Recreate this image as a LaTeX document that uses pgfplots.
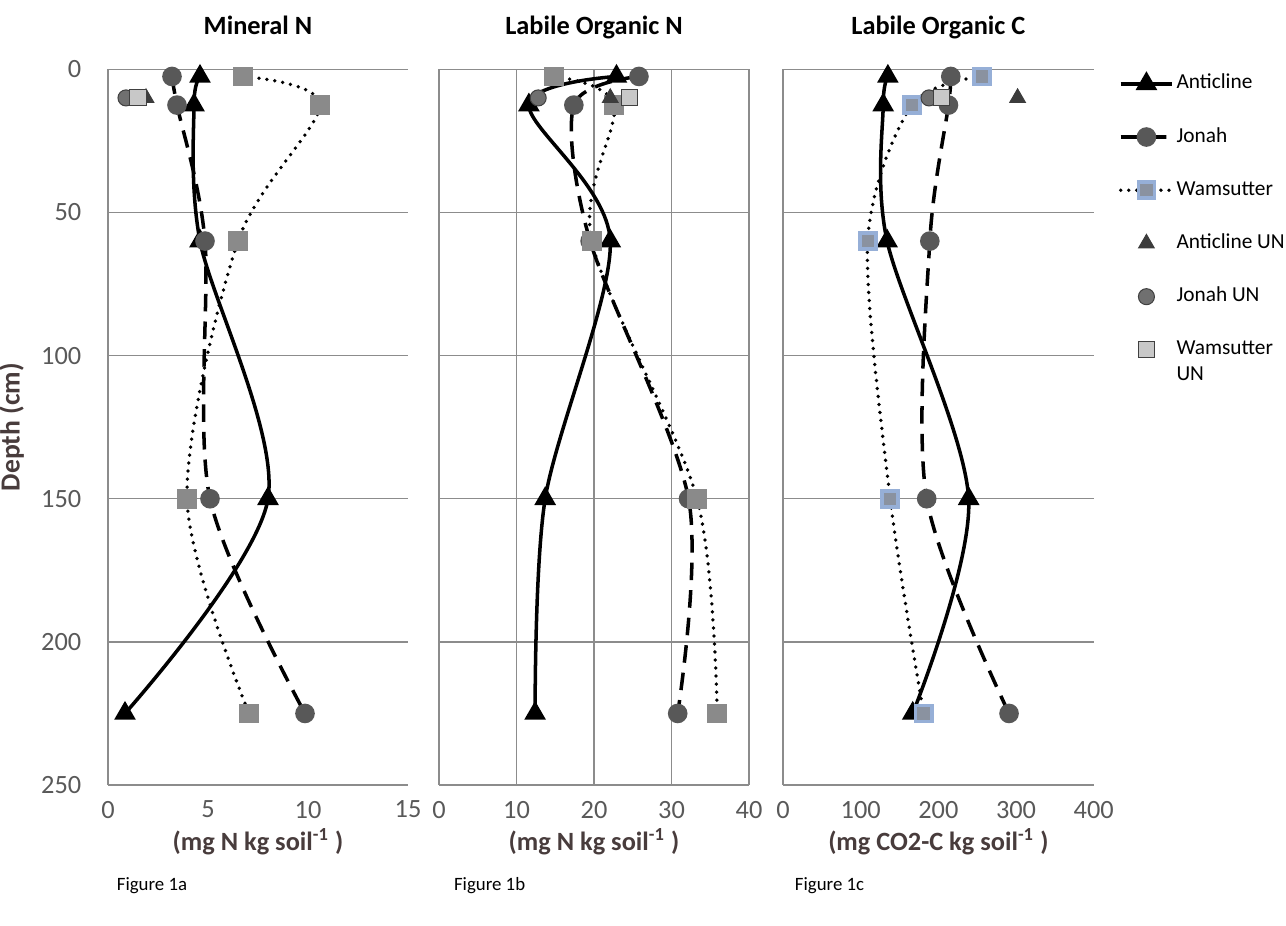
\documentclass[border=0pt]{standalone}
\usepackage{fontspec}
\setmainfont{Carlito}
\usepackage{pgfplots}
\pgfplotsset{compat=1.18}

\definecolor{tickgray}{RGB}{89,89,89}
\definecolor{gridgray}{RGB}{140,140,140}
\definecolor{labbrown}{RGB}{72,60,60}
\definecolor{jonahfill}{RGB}{88,88,88}
\definecolor{wamfill}{RGB}{138,138,138}
\definecolor{wamfillc}{RGB}{138,146,160}
\definecolor{wamedge}{RGB}{150,175,215}
\definecolor{antUN}{RGB}{60,60,60}
\definecolor{jonUN}{RGB}{112,112,112}
\definecolor{wamUN}{RGB}{200,200,200}

\pgfplotsset{
  depthax/.style={
    scale only axis, height=10.02cm, ymin=0, ymax=250, y dir=reverse,
    ytick={0,50,...,250}, ymajorgrids, grid style={gridgray, line width=0.6pt},
    major tick length=0pt, axis line style={draw=none},
    tick label style={font=\fontsize{10.5}{12}\selectfont, color=tickgray},
    /pgf/number format/assume math mode=true,
    xticklabel style={yshift=-0.1cm},
    yticklabel style={xshift=-0.25cm},
    title style={at={(0.5,1)}, anchor=base, yshift=0.27cm,
      font=\bfseries\fontsize{10.5}{12}\selectfont},
    xlabel style={at={(0.5,0)}, anchor=base, yshift=-0.92cm,
      font=\bfseries\fontsize{10.5}{12}\selectfont, color=labbrown},
    clip=false,
  },
  ant/.style={black, line width=1.4pt, smooth, mark=triangle*, mark size=3.6pt,
    mark options={solid, fill=black}},
  jon/.style={black, line width=1.4pt, smooth, dash pattern=on 7pt off 4pt,
    mark=*, mark size=3.2pt, mark options={solid, fill=jonahfill, draw=jonahfill}},
  wam/.style={black, line width=1.5pt, smooth, dash pattern=on 0pt off 3.2pt, line cap=round,
    mark=square*, mark size=3.2pt, mark options={solid, fill=wamfill, draw=wamfill}},
  antun/.style={only marks, mark=triangle*, mark size=3.6pt, mark options={fill=antUN, draw=antUN}},
  jonun/.style={only marks, mark=*, mark size=3.2pt, mark options={fill=jonUN, draw=black!75}},
  wamun/.style={only marks, mark=square*, mark size=3.2pt, mark options={fill=wamUN, draw=black!75}},
}

\begin{document}
\begin{tikzpicture}
\path[use as bounding box] (-1.512cm,-1.96cm) rectangle (16.492cm,10.99cm);

% Figure 1a
\begin{axis}[depthax, name=a1, at={(0cm,0cm)}, anchor=south west, width=4.2cm,
  xmin=0, xmax=15, xtick={0,5,10,15},
  extra x ticks={0}, extra x tick labels={}, extra x tick style={xmajorgrids},
  title={Mineral N}, xlabel={(mg N kg soil\textsuperscript{-1} )},
  ylabel={Depth (cm)},
  ylabel style={font=\bfseries\fontsize{11}{12}\selectfont, color=labbrown},
]
\addplot[ant] coordinates {(4.6,2.5)(4.3,12.5)(4.6,60)(8.0,150)(0.85,225)};
\addplot[jon] coordinates {(3.2,2.5)(3.45,12.5)(4.85,60)(5.1,150)(9.85,225)};
\addplot[wam] coordinates {(6.75,2.5)(10.6,12.5)(6.5,60)(3.95,150)(7.05,225)};
\addplot[jonun] coordinates {(0.9,10)};
\addplot[antun] coordinates {(1.9,10)};
\addplot[wamun] coordinates {(1.5,10)};
\node[anchor=base west, font=\fontsize{7.5}{9}\selectfont] at (rel axis cs:0,-0.147) {Figure 1a};
\end{axis}

% Figure 1b
\begin{axis}[depthax, name=a2, at={(4.634cm,0cm)}, anchor=south west, width=4.34cm,
  xmin=0, xmax=40, xtick={0,10,20,30,40}, xmajorgrids, yticklabels={},
  title={Labile Organic N}, xlabel={(mg N kg soil\textsuperscript{-1} )},
]
\addplot[ant] coordinates {(22.9,2.5)(11.6,12.5)(22.1,60)(13.7,150)(12.4,225)};
\addplot[jon] coordinates {(25.8,2.5)(17.4,12.5)(19.5,60)(32.2,150)(30.8,225)};
\addplot[wam] coordinates {(14.8,2.5)(22.6,12.5)(19.7,60)(33.3,150)(35.9,225)};
\addplot[antun] coordinates {(22.1,10)};
\addplot[jonun] coordinates {(12.8,10)};
\addplot[wamun] coordinates {(24.6,10)};
\node[anchor=base west, font=\fontsize{7.5}{9}\selectfont] at (rel axis cs:0.02,-0.147) {Figure 1b};
\end{axis}

% Figure 1c
\begin{axis}[depthax, name=a3, at={(9.45cm,0cm)}, anchor=south west, width=4.35cm,
  xmin=0, xmax=400, xtick={0,100,200,300,400}, yticklabels={},
  extra x ticks={0}, extra x tick labels={}, extra x tick style={xmajorgrids},
  title={Labile Organic C}, xlabel={(mg CO2-C kg soil\textsuperscript{-1} )},
  legend style={draw=none, fill=none, at={(1.055,1.005)}, anchor=north west,
    font=\fontsize{8.5}{10}\selectfont, cells={anchor=west},
    nodes={inner sep=1pt, text height=6pt, text depth=2pt}, row sep=11.2pt},
  legend image code/.code={\draw[mark repeat=2,mark phase=2,#1]
    plot coordinates {(0cm,0cm)(0.36cm,0cm)(0.72cm,0cm)};},
]
\addplot[ant] coordinates {(135,2.5)(129,12.5)(134,60)(239,150)(167,225)};
\addlegendentry{Anticline}
\addplot[jon] coordinates {(216,2.5)(213,12.5)(189,60)(185,150)(291,225)};
\addlegendentry{Jonah}
\addplot[wam, mark options={solid, fill=wamfillc, draw=wamedge}]
  coordinates {(256,2.5)(166,12.5)(109,60)(138,150)(181,225)};
\addlegendentry{Wamsutter}
\addplot[antun] coordinates {(302,10)};
\addlegendentry{Anticline UN}
\addplot[jonun] coordinates {(188,10)};
\addlegendentry{Jonah UN}
\addplot[wamun] coordinates {(204,10)};
\addlegendentry{\begin{tabular}[t]{@{}l@{}}Wamsutter\\UN\end{tabular}}
\node[anchor=base west, font=\fontsize{7.5}{9}\selectfont] at (rel axis cs:0.01,-0.147) {Figure 1c};
\end{axis}
\end{tikzpicture}
\end{document}
